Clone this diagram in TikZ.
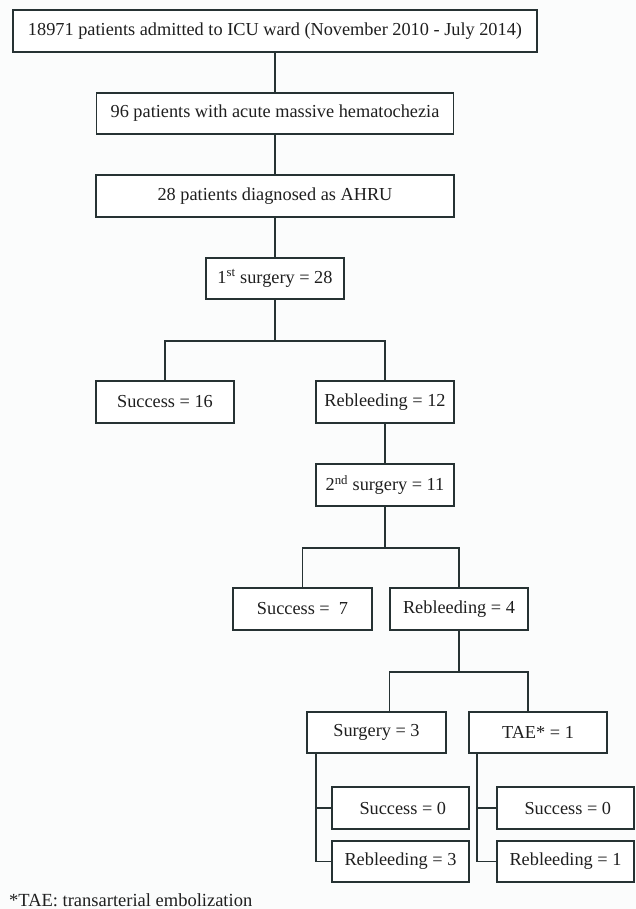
\documentclass[tikz,border=0pt]{standalone}
\usepackage{fontspec}
\setmainfont{Liberation Serif}
\definecolor{ink}{HTML}{263233}
\definecolor{bg}{HTML}{FBFCFC}
\begin{document}
\begin{tikzpicture}[x=1pt,y=-1pt,
  box/.style={draw=ink,line width=1.6pt,fill=white,inner sep=0pt,align=center,
    font=\fontsize{18.3}{21}\selectfont,text=black!88},
  conn/.style={draw=ink,line width=1.6pt}]
\fill[bg] (0,0) rectangle (636,909);
\useasboundingbox (0,0) rectangle (636,909);
\node[box,minimum width=524pt,minimum height=42pt] (b1) at (275,31) {18971 patients admitted to ICU ward (November 2010 - July 2014)};
\node[box,minimum width=357pt,minimum height=41pt] (b2) at (275,113.5) {96 patients with acute massive hematochezia};
\node[box,minimum width=358pt,minimum height=42pt] (b3) at (275,196) {28 patients diagnosed as AHRU};
\node[box,minimum width=138pt,minimum height=41pt] (b4) at (275,278.5) {1\textsuperscript{st} surgery = 28};
\node[box,minimum width=138pt,minimum height=42pt] (s16) at (165,402) {Success = 16};
\node[box,minimum width=138pt,minimum height=42pt] (r12) at (385,402) {Rebleeding = 12};
\node[box,minimum width=138pt,minimum height=42pt] (s2) at (385,485) {2\textsuperscript{nd} surgery = 11};
\node[box,minimum width=139pt,minimum height=42pt] (s7) at (302.5,609) {Success = \ 7};
\node[box,minimum width=138pt,minimum height=42pt] (r4) at (459,609) {Rebleeding = 4};
\node[box,minimum width=139pt,minimum height=41pt] (sur3) at (376.5,732.5) {Surgery = 3};
\node[box,minimum width=138pt,minimum height=41pt] (tae) at (538,732.5) {TAE* = 1};
\node[box,minimum width=137pt,minimum height=42pt] (sl0) at (400.5,808) {\ Success = 0};
\node[box,minimum width=137pt,minimum height=41pt] (rl3) at (400.5,861.5) {Rebleeding = 3};
\node[box,minimum width=137pt,minimum height=42pt] (sr0) at (565.5,808) {\ Success = 0};
\node[box,minimum width=137pt,minimum height=41pt] (rr1) at (565.5,861.5) {Rebleeding = 1};
\node[anchor=west,inner sep=0pt,font=\fontsize{18.5}{21}\selectfont,text=black!88] (fn) at (9,900) {*TAE: transarterial embolization};
% connectors
\draw[conn] (b1.south) -- (b2.north);
\draw[conn] (b2.south) -- (b3.north);
\draw[conn] (b3.south) -- (b4.north);
\draw[conn] (b4.south) -- ++(0,41) coordinate (j1);
\draw[conn] (j1) -| (s16.north);
\draw[conn] (j1) -| (r12.north);
\draw[conn] (r12.south) -- (s2.north);
\draw[conn] (s2.south) -- ++(0,41) coordinate (j2);
\draw[conn] (j2) -| (s7.north);
\draw[conn] (j2) -| (r4.north);
\draw[conn] (r4.south) -- ++(0,41) coordinate (j3);
\coordinate (sur3top) at ([xshift=13pt]sur3.north);
\coordinate (taetop) at ([xshift=-10pt]tae.north);
\draw[conn] (j3) -| (sur3top);
\draw[conn] (j3) -| (taetop);
\coordinate (lv) at ([xshift=10pt]sur3.south west);
\draw[conn] (lv) |- (rl3.west);
\draw[conn] (lv |- sl0.west) -- (sl0.west);
\coordinate (rv) at ([xshift=9pt]tae.south west);
\draw[conn] (rv) |- (rr1.west);
\draw[conn] (rv |- sr0.west) -- (sr0.west);
\end{tikzpicture}
\end{document}
